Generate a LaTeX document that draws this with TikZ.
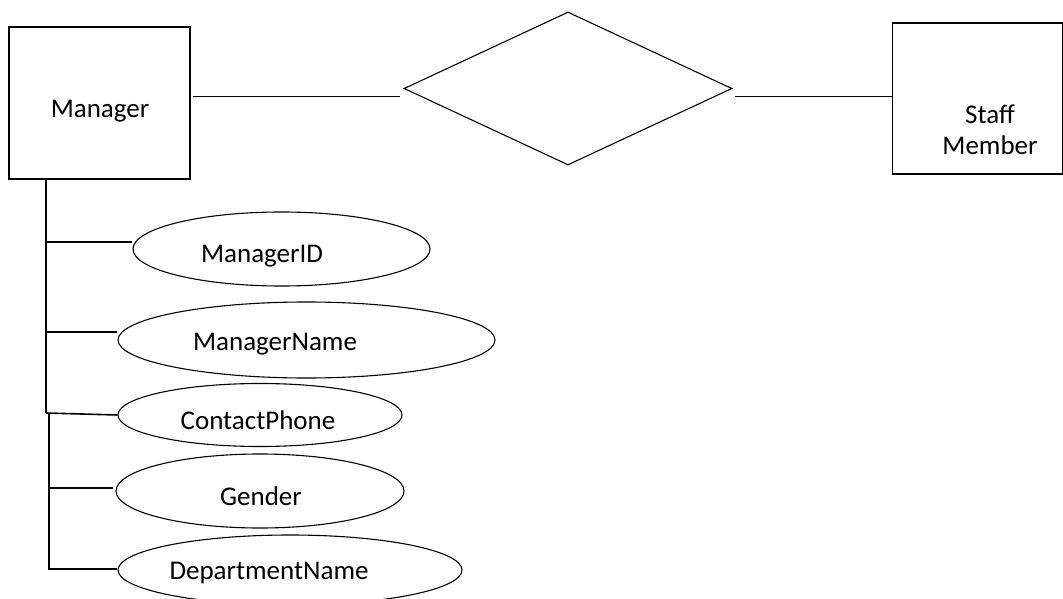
\documentclass[tikz,border=0pt]{standalone}
\usepackage{fontspec}
\setmainfont{Carlito}
\usetikzlibrary{shapes.geometric}
\begin{document}
\begin{tikzpicture}[x=1pt,y=-1pt,
  ln/.style={line width=1.1pt},
  ent/.style={draw,ln,inner sep=0pt},
  attr/.style={draw,ln,ellipse,inner sep=0pt},
  txt/.style={font=\fontsize{27}{32}\selectfont,inner sep=0pt,align=center}]
\useasboundingbox (0,0) rectangle (1063,599);
% entities
\node[ent,minimum width=181pt,minimum height=152pt] (mgr) at (99.5,103) {};
\node[ent,minimum width=170pt,minimum height=151pt] (staff) at (977.5,98.5) {};
\node[draw,ln,diamond,minimum width=328pt,minimum height=153pt,inner sep=0pt] (rel) at (568,88.5) {};
% attributes
\node[attr,minimum width=297pt,minimum height=74pt] (e1) at (281.5,249) {};
\node[attr,minimum width=377pt,minimum height=76pt] (e2) at (306.5,340) {};
\node[attr,minimum width=284pt,minimum height=63pt] (e3) at (260,415) {};
\node[attr,minimum width=288pt,minimum height=74pt] (e4) at (260,491) {};
\node[attr,minimum width=344pt,minimum height=70pt] (e5) at (290,570) {};
% texts
\node[txt] (tm) at (100,111) {Manager};
\node[txt] (ts) at (990,130) {Staff\\[-1pt]Member};
\node[txt] (t1) at (262,256) {ManagerID};
\node[txt] (t2) at (275,344) {ManagerName};
\node[txt] (t3) at (258,420) {ContactPhone};
\node[txt] (t4) at (261,496) {Gender};
\node[txt] (t5) at (269,573) {DepartmentName};
% relationship lines
\coordinate (a1) at (193,96);
\coordinate (a2) at (400,96);
\coordinate (b1) at (735,96);
\coordinate (b2) at (893,96);
\draw[line width=0.9pt] (a1) -- (a2);
\draw[line width=0.9pt] (b1) -- (b2);
% vertical spine
\coordinate (v0) at (46,179);
\coordinate (v1) at (46,413);
\coordinate (v2) at (49,413);
\coordinate (v3) at (49,569);
\draw[line width=1.6pt] (v0) -- (v1);
\draw[line width=1.6pt] (v2) -- (v3) -- (e5.west |- v3);
\draw[line width=1.6pt] (46,242) -- (e1.west |- 0,242);
\draw[line width=1.6pt] (46,332) -- (e2.west |- 0,332);
\draw[line width=1.6pt] (46,413) -- (e3.west);
\draw[line width=1.6pt] (49,488) -- (113,488);
\end{tikzpicture}
\end{document}
